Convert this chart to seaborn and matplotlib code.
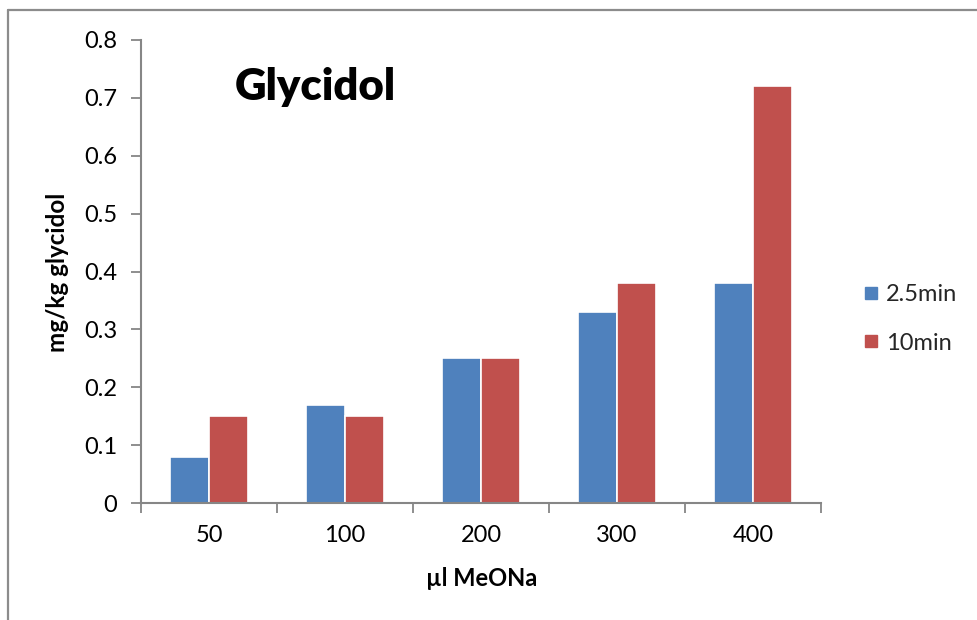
import matplotlib
matplotlib.use("Agg")
import matplotlib.pyplot as plt
import matplotlib.lines as mlines
import seaborn as sns
import pandas as pd
from matplotlib.ticker import FixedLocator

categories = ["50", "100", "200", "300", "400"]
series_names = ["2.5min", "10min"]
values_25 = [0.08, 0.17, 0.25, 0.33, 0.38]
values_10 = [0.15, 0.15, 0.25, 0.38, 0.72]
yticks = [0, 0.1, 0.2, 0.3, 0.4, 0.5, 0.6, 0.7, 0.8]
ytick_labels = ["0", "0.1", "0.2", "0.3", "0.4", "0.5", "0.6", "0.7", "0.8"]

df = pd.DataFrame({
    "cat": categories * 2,
    "series": [series_names[0]] * len(categories) + [series_names[1]] * len(categories),
    "value": values_25 + values_10,
})

sns.set_theme(style="white")
plt.rcParams["font.family"] = ["Lato", "DejaVu Sans"]

W, H = 978, 620
fig = plt.figure(figsize=(W / 100, H / 100), dpi=100)
ax = fig.add_axes([141 / W, 1 - 503 / H, (821 - 141) / W, (503 - 40) / H])

palette = {"2.5min": "#4F81BD", "10min": "#C0504D"}
sns.barplot(data=df, x="cat", y="value", hue="series", order=categories,
            hue_order=series_names, palette=palette, width=0.58, dodge=True,
            edgecolor="white", linewidth=1.2, saturation=1, ax=ax, legend=False)

gray = "#868686"
ax.set_ylim(0, 0.8)
ax.set_xlim(-0.5, len(categories) - 0.5)
ax.set_yticks(yticks)
ax.set_yticklabels(ytick_labels)
for s in ["top", "right"]:
    ax.spines[s].set_visible(False)
for s in ["left", "bottom"]:
    ax.spines[s].set_color(gray)
    ax.spines[s].set_linewidth(1.5)
ax.tick_params(axis="y", which="major", direction="out", length=7, width=1.3,
               color=gray, pad=10, labelsize=17, left=True, labelcolor="black")
ax.tick_params(axis="x", which="major", length=0, pad=16, labelsize=17, bottom=True,
               labelcolor="black")
ax.xaxis.set_minor_locator(FixedLocator([i - 0.5 for i in range(len(categories) + 1)]))
ax.tick_params(axis="x", which="minor", direction="out", length=7, width=1.3,
               color=gray, bottom=True)
ax.set_xlabel("")
ax.set_ylabel("")

fig.text(482 / W, 1 - 579 / H, "µl MeONa", ha="center", va="center",
         fontsize=17, fontweight="bold", color="black")
fig.text(58 / W, 1 - 272 / H, "mg/kg glycidol", ha="center", va="center",
         rotation=90, fontsize=17.5, fontweight="bold", color="black")
fig.text(235 / W, 1 - 100 / H, "Glycidol", ha="left", va="baseline",
         fontsize=31.5, fontweight="heavy", color="black")

handles = [mlines.Line2D([], [], marker="s", linestyle="none", markersize=9,
                         markerfacecolor=palette[n], markeredgecolor=palette[n])
           for n in series_names]
fig.legend(handles, series_names, loc="center left",
           bbox_to_anchor=(862 / W, 1 - 319 / H), frameon=False, fontsize=17,
           handletextpad=0.2, labelspacing=1.15, handlelength=0.8, borderpad=0,
           borderaxespad=0)

# figure border (top and left)
fig.add_artist(mlines.Line2D([8 / W, 1], [1 - 10 / H, 1 - 10 / H], color="#8c8c8c", lw=1.6))
fig.add_artist(mlines.Line2D([8 / W, 8 / W], [0, 1 - 10 / H], color="#8c8c8c", lw=1.6))

fig.savefig("out.png", dpi=100)
